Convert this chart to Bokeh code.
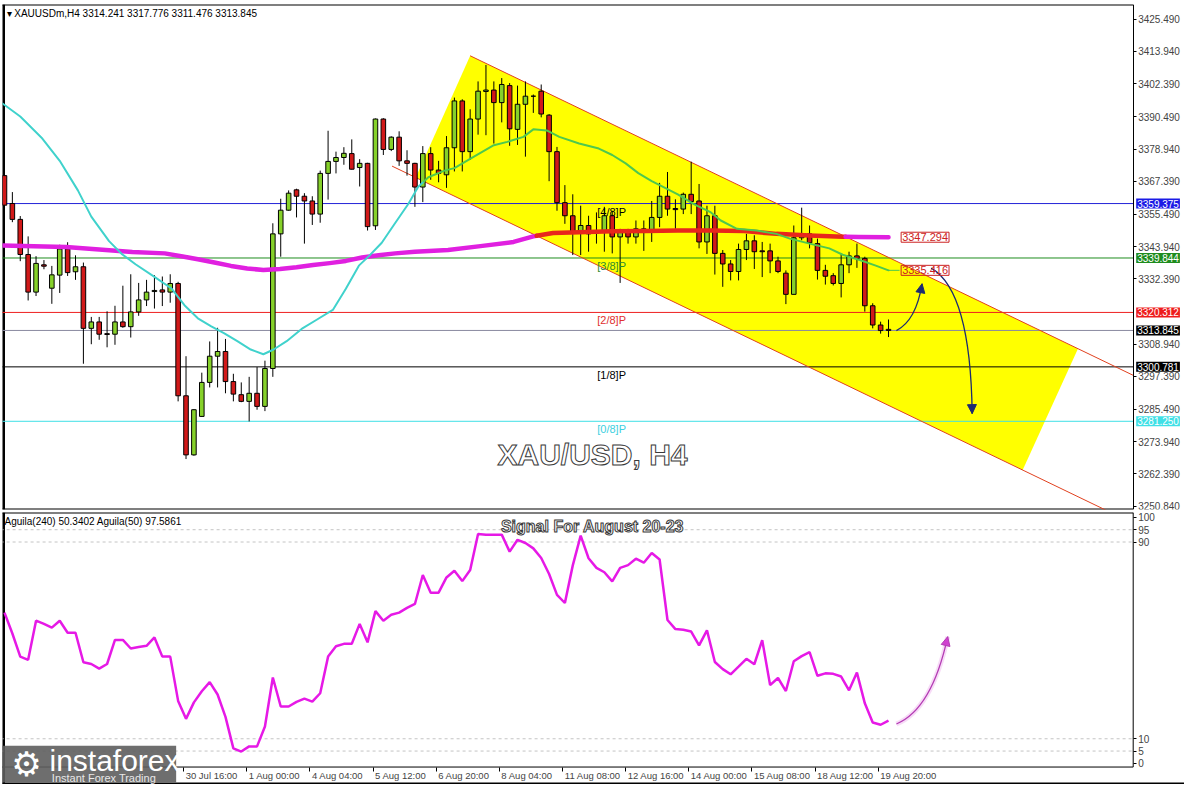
import numpy as np
from bokeh.plotting import figure
from bokeh.layouts import column
from bokeh.models import (Range1d, FixedTicker, Label, Arrow, NormalHead, ColumnDataSource,
                          NumeralTickFormatter, CustomJSTickFormatter, BoxAnnotation, LinearAxis)
from bokeh.core.properties import value
from bokeh.embed import file_html
from bokeh.resources import INLINE

# ---------------- data ----------------
opens = [3369.4, 3359.4, 3353.7, 3341.1, 3327.6, 3337.4, 3329.0, 3333.7, 3343.1, 3334.9,
         3336.7, 3314.6, 3316.9, 3312.7, 3312.5, 3316.9, 3315.2, 3320.5, 3324.8, 3327.8,
         3328.4, 3327.6, 3330.7, 3290.4, 3269.2, 3283.0, 3295.2, 3304.6, 3306.3, 3295.5,
         3290.8, 3288.4, 3291.3, 3286.6, 3300.2, 3348.5, 3357.0, 3364.3, 3362.0, 3360.3,
         3355.6, 3370.2, 3374.5, 3375.9, 3377.3, 3372.3, 3373.8, 3351.4, 3389.7, 3378.8,
         3383.2, 3374.7, 3373.8, 3365.3, 3377.3, 3371.4, 3369.7, 3379.4, 3396.2, 3378.0,
         3389.7, 3399.6, 3400.1, 3395.6, 3401.7, 3386.0, 3395.0, 3397.9, 3399.7, 3391.1,
         3378.0, 3359.7, 3355.0, 3349.1, 3351.5, 3349.1, 3349.1, 3355.0, 3347.4, 3349.5,
         3347.4, 3350.3, 3349.7, 3354.4, 3362.0, 3357.6, 3357.4, 3362.7, 3360.3, 3345.6,
         3355.0, 3341.5, 3337.7, 3335.0, 3342.9, 3346.0, 3342.4, 3342.4, 3338.8, 3334.4,
         3326.8, 3347.1, 3348.5, 3345.0, 3335.4, 3333.5, 3330.7, 3337.4, 3340.6, 3339.7,
         3322.7, 3315.8, 3314.241]
highs = [3373.5, 3363.5, 3354.9, 3347.6, 3340.5, 3339.1, 3337.0, 3344.6, 3345.5, 3340.8,
         3338.2, 3318.7, 3318.7, 3320.7, 3322.7, 3329.9, 3334.0, 3330.9, 3332.0, 3333.7,
         3333.2, 3334.0, 3331.3, 3304.6, 3285.6, 3298.7, 3309.9, 3314.8, 3310.8, 3298.3,
         3295.2, 3297.2, 3300.7, 3303.0, 3352.3, 3361.1, 3364.1, 3364.7, 3363.1, 3362.0,
         3371.2, 3385.5, 3378.0, 3379.6, 3382.4, 3375.3, 3374.0, 3389.9, 3390.0, 3383.5,
         3385.3, 3378.5, 3374.0, 3380.0, 3379.6, 3374.7, 3383.6, 3397.4, 3396.8, 3393.2,
         3403.2, 3409.1, 3403.2, 3404.4, 3402.6, 3401.7, 3403.2, 3398.5, 3402.1, 3391.5,
         3379.7, 3366.0, 3362.7, 3358.6, 3355.0, 3356.2, 3358.2, 3356.8, 3350.3, 3350.3,
         3353.3, 3353.3, 3360.3, 3366.8, 3370.7, 3360.9, 3363.3, 3374.4, 3366.4, 3358.6,
         3358.6, 3342.7, 3339.1, 3345.0, 3348.5, 3348.0, 3345.6, 3345.0, 3340.3, 3335.4,
         3351.5, 3357.9, 3351.5, 3346.8, 3337.4, 3334.4, 3341.5, 3342.1, 3345.0, 3340.3,
         3323.6, 3317.0, 3317.776]
lows = [3358.2, 3352.7, 3338.7, 3324.6, 3326.2, 3335.8, 3323.4, 3327.3, 3333.4, 3332.0,
        3301.9, 3308.9, 3310.5, 3307.8, 3308.7, 3314.8, 3311.3, 3319.1, 3322.6, 3321.7,
        3322.6, 3323.8, 3288.4, 3267.7, 3268.9, 3282.8, 3293.4, 3293.4, 3291.3, 3288.4,
        3288.1, 3281.2, 3285.4, 3284.9, 3297.2, 3340.3, 3356.8, 3354.4, 3345.0, 3351.7,
        3352.5, 3360.8, 3370.2, 3373.3, 3371.6, 3365.5, 3349.7, 3349.9, 3376.8, 3378.2,
        3372.9, 3369.4, 3358.2, 3359.9, 3367.9, 3367.0, 3365.0, 3370.9, 3370.9, 3375.0,
        3384.1, 3383.9, 3380.9, 3388.5, 3380.1, 3380.4, 3376.2, 3391.9, 3390.3, 3367.4,
        3356.8, 3352.1, 3340.9, 3340.9, 3342.1, 3345.0, 3342.1, 3341.5, 3330.9, 3345.0,
        3345.0, 3342.4, 3345.6, 3350.9, 3355.0, 3350.3, 3355.6, 3355.6, 3343.3, 3341.3,
        3333.9, 3329.5, 3331.8, 3331.8, 3339.1, 3335.9, 3333.0, 3334.4, 3334.4, 3323.3,
        3326.8, 3346.2, 3343.3, 3332.1, 3330.3, 3330.0, 3325.7, 3334.4, 3336.3, 3320.6,
        3314.6, 3312.7, 3311.476]
closes = [3358.8, 3353.7, 3341.1, 3327.6, 3337.9, 3336.9, 3333.8, 3343.1, 3334.6, 3336.7,
          3314.6, 3316.9, 3312.5, 3312.4, 3316.9, 3315.2, 3320.5, 3324.8, 3327.6, 3328.2,
          3327.6, 3330.7, 3290.4, 3269.2, 3285.4, 3295.2, 3304.6, 3306.3, 3295.5, 3291.0,
          3288.4, 3291.3, 3286.6, 3300.2, 3348.5, 3357.0, 3363.1, 3362.0, 3360.3, 3355.6,
          3370.2, 3374.5, 3375.9, 3377.4, 3371.7, 3373.8, 3351.1, 3389.7, 3378.8, 3383.2,
          3374.7, 3373.8, 3365.3, 3377.3, 3371.4, 3370.2, 3379.4, 3396.2, 3378.0, 3389.7,
          3399.7, 3400.1, 3395.6, 3402.1, 3386.2, 3395.0, 3397.9, 3397.9, 3391.5, 3378.0,
          3359.7, 3355.0, 3349.1, 3351.5, 3348.5, 3348.8, 3355.0, 3347.4, 3349.1, 3347.4,
          3350.3, 3349.7, 3354.4, 3362.0, 3357.4, 3357.2, 3362.7, 3360.1, 3345.6, 3355.0,
          3341.5, 3337.7, 3335.0, 3342.9, 3346.0, 3342.1, 3342.1, 3338.8, 3335.0, 3326.8,
          3347.1, 3348.3, 3345.3, 3335.4, 3333.3, 3330.7, 3337.4, 3340.6, 3339.7, 3322.7,
          3315.8, 3313.8, 3313.845]
bars = list(range(len(opens)))

ma_fast_bar = [-0.25, 2.0, 4.7, 7.0, 9.3, 11.0, 13.25, 14.9, 16.6, 19.1, 21.2, 22.8, 24.5,
               26.2, 27.8, 29.5, 31.2, 32.8, 34.1, 35.75, 37.8, 39.5, 41.6, 43.25, 44.9,
               46.2, 47.8, 49.5, 51.2, 52.4, 53.7, 55.75, 57.0, 59.1, 62.0, 63.7, 65.75,
               67.0, 68.7, 70.3, 72.8, 75.3, 77.0, 78.7, 80.3, 82.0, 83.25, 85.3, 87.4,
               89.5, 90.75, 92.8, 95.3, 97.8, 99.5, 102.0, 104.5, 106.2, 108.25, 110.3, 112.0]
ma_fast = [3395.3, 3390.6, 3383.0, 3374.7, 3364.1, 3354.7, 3345.9, 3341.2, 3337.6, 3332.9,
           3328.8, 3322.9, 3318.2, 3315.3, 3312.9, 3310.0, 3307.0, 3305.3, 3307.0, 3310.0,
           3314.7, 3317.6, 3321.2, 3328.8, 3337.1, 3340.6, 3345.3, 3352.4, 3359.4, 3365.3,
           3368.8, 3371.2, 3372.1, 3375.6, 3380.3, 3381.5, 3383.3, 3386.0, 3385.6, 3383.3,
           3380.9, 3379.1, 3376.8, 3373.8, 3370.3, 3367.4, 3365.6, 3362.7, 3359.1, 3356.2,
           3353.3, 3350.3, 3349.7, 3348.5, 3346.8, 3345.0, 3343.3, 3341.0, 3339.2, 3337.2,
           3335.416]
ma_slow_bar = [-0.25, 3.7, 7.8, 12.0, 16.2, 20.3, 22.4, 24.5, 26.6, 28.7, 30.75, 32.8, 34.9,
               37.0, 39.1, 41.2, 43.25, 45.3, 47.4, 49.5, 52.0, 56.2, 60.3, 64.5, 67.0, 69.5,
               72.8, 77.0, 81.2, 85.3, 89.5, 93.7, 97.8, 102.0, 106.2, 108.25, 112.0]
ma_slow = [3344.3, 3344.1, 3343.8, 3342.9, 3342.0, 3341.5, 3340.5, 3339.4, 3338.2, 3337.0,
           3336.1, 3335.5, 3335.9, 3336.5, 3337.3, 3338.0, 3338.8, 3340.0, 3340.8, 3341.5,
           3342.1, 3342.7, 3344.1, 3345.6, 3347.6, 3348.8, 3349.1, 3349.4, 3349.5, 3349.7,
           3349.7, 3349.5, 3348.5, 3347.9, 3347.5, 3347.4, 3347.294]

aguila = [61.3, 52.8, 43.4, 42.1, 58.0, 56.7, 55.2, 58.0, 53.1, 53.1, 41.1, 40.4, 38.5, 40.4,
          50.2, 50.2, 46.7, 47.3, 47.8, 51.2, 43.4, 43.4, 25.4, 18.1, 24.8, 29.3, 33.0, 28.0,
          18.9, 6.1, 4.8, 6.9, 6.9, 15.0, 34.9, 23.1, 23.1, 25.0, 26.3, 25.1, 28.5, 43.4,
          47.6, 48.6, 48.6, 56.7, 49.2, 61.9, 58.0, 60.4, 61.3, 63.2, 64.8, 76.6, 69.4, 69.4,
          75.6, 78.3, 74.1, 78.6, 93.3, 93.0, 93.0, 93.0, 86.1, 90.9, 89.6, 87.4, 83.5, 77.0,
          68.5, 65.2, 80.5, 92.6, 83.4, 79.5, 77.7, 74.0, 79.5, 80.6, 83.2, 81.6, 85.5, 82.9,
          58.3, 54.6, 54.3, 53.6, 48.0, 54.1, 41.2, 38.3, 36.2, 39.3, 42.5, 40.3, 50.1, 31.8,
          34.7, 29.4, 41.5, 43.6, 45.2, 35.6, 36.6, 36.4, 35.3, 29.7, 36.9, 24.4, 16.6, 15.7,
          17.4]

price_ticks = [3250.840, 3262.390, 3273.940, 3285.490, 3297.390, 3308.940, 3332.390,
               3343.940, 3355.490, 3367.390, 3378.940, 3390.490, 3402.390, 3413.940, 3425.490]
time_ticks = [22.7, 30.7, 38.7, 46.7, 54.7, 62.7, 70.7, 78.7, 86.7, 94.7, 102.7, 110.7]
time_labels = ["30 Jul 16:00", "1 Aug 00:00", "4 Aug 04:00", "5 Aug 12:00", "6 Aug 20:00",
               "8 Aug 04:00", "11 Aug 08:00", "12 Aug 16:00", "14 Aug 00:00", "15 Aug 08:00",
               "18 Aug 12:00", "19 Aug 20:00"]
aguila_ticks = [0, 5, 10, 90, 95, 100]
aguila_levels = [95, 90, 10, 5]

murrey_levels = [3359.375, 3339.844, 3320.312, 3300.781, 3281.250]
murrey_names = ["[4/8]P", "[3/8]P", "[2/8]P", "[1/8]P", "[0/8]P"]
murrey_tags = ["3359.375", "3339.844", "3320.312", "3300.781", "3281.250"]
last_price = 3313.845
last_tag = "3313.845"
ma_slow_tag = "3347.294"
ma_fast_tag = "3335.416"

# regression channel: (bar, price) anchors of the upper line, and the width in price
channel_upper = [(59.0, 3412.4), (136.0, 3307.3)]
channel_width = 53.1
channel_left_bottom = 52.1
channel_right_bottom = 129.0
channel_line_start = 49.1

header = "\u25be XAUUSDm,H4  3314.241 3317.776 3311.476 3313.845"
sub_header = "Aguila(240) 50.3402   Aguila(50) 97.5861"

# ---------------- styles ----------------
FONT = "Liberation Sans"
GREEN_C = "#86d12a"
RED_C = "#d11919"
level_colors = ["#2323d8", "#1e8c1e", "#ee2020", "#000000", "#3fe0e6"]
tag_bg = ["#1b1be6", "#1e8c1e", "#ee1c1c", "#000000", "#3fe0e6"]
text_colors = ["#000000", "#2e8b2e", "#e03030", "#000000", "#40d0e0"]

X0, XA, X1 = -0.25, 143.0, 149.5      # left edge, price-axis position, right edge
PX_PER_BAR = 1182.0 / (X1 - X0)
x_range = Range1d(X0, X1)
P_LO, P_HI = 3249.6, 3430.8
A_LO, A_HI = -8.6, 102.0
AG_BOTTOM = -1.5
slope = (channel_upper[1][1] - channel_upper[0][1]) / (channel_upper[1][0] - channel_upper[0][0])


def upper(x):
    return channel_upper[0][1] + slope * (x - channel_upper[0][0])


def lower(x):
    return upper(x) - channel_width


def inside(x, y):
    lo, hi = lower(x), upper(x)
    if y < lo or y > hi:
        return False
    f = (y - lo) / channel_width
    xl = channel_left_bottom + f * (channel_upper[0][0] - channel_left_bottom)
    xr = channel_right_bottom + f * (channel_upper[1][0] - channel_right_bottom)
    return xl <= x <= xr


def split_colored(xs, ys, c_in, c_out):
    out_x, out_y, out_c = [], [], []
    cx, cy = [xs[0]], [ys[0]]
    cin = inside(xs[0], ys[0])
    for k in range(1, len(xs)):
        x1, y1 = xs[k], ys[k]
        s = inside(x1, y1)
        if s == cin:
            cx.append(x1); cy.append(y1)
            continue
        x0, y0 = cx[-1], cy[-1]
        a, b = 0.0, 1.0
        for _ in range(30):
            m = (a + b) / 2
            if inside(x0 + (x1 - x0) * m, y0 + (y1 - y0) * m) == cin:
                a = m
            else:
                b = m
        xm, ym = x0 + (x1 - x0) * a, y0 + (y1 - y0) * a
        cx.append(xm); cy.append(ym)
        out_x.append(cx); out_y.append(cy); out_c.append(c_in if cin else c_out)
        cx, cy = [xm, x1], [ym, y1]
        cin = s
    out_x.append(cx); out_y.append(cy); out_c.append(c_in if cin else c_out)
    return out_x, out_y, out_c


def qpt(p0, c, p1, t):
    return ((1 - t) ** 2 * p0[0] + 2 * (1 - t) * t * c[0] + t ** 2 * p1[0],
            (1 - t) ** 2 * p0[1] + 2 * (1 - t) * t * c[1] + t ** 2 * p1[1])


CW = {d: 5.56 for d in "0123456789"}
CW.update({" ": 2.78, ":": 2.78, "J": 5.0, "u": 5.56, "l": 2.22, "A": 6.67, "g": 5.56})


def text_w(s, size):
    return sum(CW.get(ch, 5.5) for ch in s) * size / 10.0


# ---------------- main price panel ----------------
p = figure(width=1184, height=512, x_range=x_range, y_range=Range1d(P_LO, P_HI),
           toolbar_location=None, output_backend="svg", x_axis_location=None,
           y_axis_location="right", min_border_left=2, min_border_right=0,
           min_border_top=4, min_border_bottom=3)
p.grid.visible = False
p.outline_line_color = None
p.background_fill_color = "white"
p.border_fill_color = "white"
ya = p.yaxis[0]
ya.fixed_location = XA
ya.ticker = FixedTicker(ticks=price_ticks, minor_ticks=[])
ya.formatter = NumeralTickFormatter(format="0.000")
ya.major_label_text_font = FONT
ya.major_label_text_font_size = "10px"
ya.major_tick_out = 3
ya.major_tick_in = 0
ya.minor_tick_out = 0
ya.minor_tick_in = 0
ya.major_label_standoff = 2
ya.axis_line_color = "black"

# panel frame (top / bottom / left window border)
p.segment(x0=[X0 - 1, X0 - 1, X0], y0=[P_HI, P_LO, P_LO], x1=[XA, XA, X0], y1=[P_HI, P_LO, P_HI],
          line_color="black", line_width=[2, 2, 5])

# channel fill
cx0, cx1 = channel_upper[0][0], channel_upper[1][0]
p.patch([cx0, cx1, channel_right_bottom, channel_left_bottom],
        [upper(cx0), upper(cx1), lower(channel_right_bottom), lower(channel_left_bottom)],
        fill_color="#ffff00", line_color=None)

# horizontal levels
for lvl, col in zip(murrey_levels, level_colors):
    p.segment(x0=X0 - 1, x1=XA, y0=lvl, y1=lvl, line_color=col, line_width=1)
p.segment(x0=X0 - 1, x1=XA, y0=last_price, y1=last_price, line_color="#8a8aa0", line_width=1)

# channel lines
p.segment(x0=cx0, y0=upper(cx0), x1=XA, y1=upper(XA), line_color="#e0401e", line_width=1)
p.segment(x0=channel_line_start, y0=lower(channel_line_start), x1=XA, y1=lower(XA),
          line_color="#e0401e", line_width=1)

# candles
tops = [max(o, c) for o, c in zip(opens, closes)]
bots = [min(o, c) for o, c in zip(opens, closes)]
cols = [GREEN_C if c > o else RED_C for o, c in zip(opens, closes)]
src = ColumnDataSource(dict(x=bars, h=highs, l=lows, top=tops, bottom=bots, color=cols))
p.segment(x0="x", y0="l", x1="x", y1="h", source=src, line_color="black", line_width=1)
p.vbar(x="x", top="top", bottom="bottom", width=0.58, fill_color="color",
       line_color="black", line_width=1, source=src)

# moving averages
sx, sy, sc = split_colored(ma_slow_bar, ma_slow, "#e8261c", "#e020e0")
p.multi_line(xs="xs", ys="ys", line_color="c", line_width=4.5, line_cap="round", line_join="round",
             source=ColumnDataSource(dict(xs=sx, ys=sy, c=sc)))
fx, fy, fc = split_colored(ma_fast_bar, ma_fast, "#4ec84e", "#40d2cc")
p.multi_line(xs="xs", ys="ys", line_color="c", line_width=2, line_cap="round", line_join="round",
             source=ColumnDataSource(dict(xs=fx, ys=fy, c=fc)))
p.segment(x0=ma_fast_bar[-1], x1=113.4, y0=ma_fast[-1], y1=ma_fast[-1], line_color="#4ec84e",
          line_width=1)

# Murrey labels
p.text(x=[75.1] * 5, y=murrey_levels, text=murrey_names, text_color=text_colors,
       text_font=value(FONT), text_font_size="11px", text_baseline="top", text_align="left",
       y_offset=2)

# MA value tags
for t, yv in ((ma_slow_tag, ma_slow[-1]), (ma_fast_tag, ma_fast[-1])):
    p.add_layout(Label(x=113.6, y=yv, text=t, text_font=FONT, text_font_size="11px",
                       text_color="#cc2222", text_baseline="middle", text_align="left",
                       border_line_color="#cc2222", border_line_width=1, padding=1))

# price-axis tags
for t, lvl, bg in list(zip(murrey_tags, murrey_levels, tag_bg)) + [(last_tag, last_price, "#000000")]:
    p.add_layout(Label(x=XA, y=lvl, x_offset=3, text=t, text_font=FONT, text_font_size="10px",
                       text_color="white", text_baseline="middle", text_align="left",
                       background_fill_color=bg, background_fill_alpha=1.0, padding=1))

# forecast arrows
navy = "#1c2b70"
a1 = ((113.0, 3313.8), (115.5, 3317.4), (116.25, 3330.6))
a2 = ((117.4, 3336.2), (122.4, 3328.1), (122.6, 3284.0))
for s0, c0, e0 in (a1, a2):
    p.quadratic(x0=s0[0], y0=s0[1], cx=c0[0], cy=c0[1], x1=e0[0], y1=e0[1],
                line_color=navy, line_width=1.3)
    st = qpt(s0, c0, e0, 0.9)
    p.add_layout(Arrow(end=NormalHead(size=9, fill_color=navy, line_color=navy),
                       x_start=st[0], y_start=st[1], x_end=e0[0], y_end=e0[1], line_alpha=0))

# header + watermark
p.add_layout(Label(x=X0, y=3427.6, x_offset=4, text=header, text_font=FONT,
                   text_font_size="10px", text_color="black", text_baseline="middle"))
p.add_layout(Label(x=74.5, y=3269.5, text="XAU/USD, H4", text_font=FONT, text_font_size="30px",
                   text_font_style="bold", text_color="white", text_outline_color="#3a3a3a",
                   text_align="center", text_baseline="middle"))

# ---------------- indicator panel ----------------
q = figure(width=1184, height=272, x_range=x_range, y_range=Range1d(A_LO, A_HI),
           toolbar_location=None, output_backend="svg", y_axis_location="right",
           min_border_left=2, min_border_right=0, min_border_top=0, min_border_bottom=0)
q.grid.visible = False
q.outline_line_color = None
q.background_fill_color = "white"
q.border_fill_color = "white"
qa = q.yaxis[0]
qa.fixed_location = XA
qa.ticker = FixedTicker(ticks=aguila_ticks, minor_ticks=[])
qa.major_label_text_font = FONT
qa.major_label_text_font_size = "10px"
qa.major_tick_out = 3
qa.major_tick_in = 0
qa.minor_tick_out = 0
qa.minor_tick_in = 0
qa.major_label_standoff = 2
qa.axis_line_color = None

# time labels (left-aligned after their tick, as in the terminal)
label_pos = [t + (2.0 + 0.5 * text_w(s, 9.5)) / PX_PER_BAR for t, s in zip(time_ticks, time_labels)]
xa = q.xaxis[0]
xa.fixed_location = AG_BOTTOM
xa.ticker = FixedTicker(ticks=label_pos, minor_ticks=[])
xa.formatter = CustomJSTickFormatter(args=dict(tt=label_pos, ll=time_labels), code="""
for (let i = 0; i < tt.length; i++) { if (Math.abs(tt[i] - tick) < 0.001) { return ll[i]; } }
return "";
""")
xa.major_label_text_font = FONT
xa.major_label_text_font_size = "9.5px"
xa.major_tick_out = 0
xa.major_tick_in = 0
xa.minor_tick_out = 0
xa.minor_tick_in = 0
xa.major_label_standoff = 3
xa.axis_line_color = None

tick_axis = LinearAxis(fixed_location=AG_BOTTOM, ticker=FixedTicker(ticks=time_ticks, minor_ticks=[]),
                       formatter=CustomJSTickFormatter(code="return '';"),
                       major_tick_out=4, major_tick_in=0, minor_tick_out=0, minor_tick_in=0,
                       axis_line_color=None, major_label_text_font_size="1px")
q.add_layout(tick_axis, "below")

# panel frame: top line, axis lines, left and bottom window border
q.segment(x0=[X0 - 1, X0 - 1, XA, X0, X0 - 1],
          y0=[A_HI, AG_BOTTOM, AG_BOTTOM, A_LO, A_LO],
          x1=[XA, XA, XA, X0, X1 + 1],
          y1=[A_HI, AG_BOTTOM, A_HI, A_HI, A_LO],
          line_color="black", line_width=[2, 1, 1, 5, 4])

q.segment(x0=X0 - 1, x1=XA, y0=aguila_levels, y1=aguila_levels, line_color="#c4c4c4",
          line_width=1, line_dash="3 3")
q.line(bars, aguila, line_color="#e619e6", line_width=2.5)

pa = ((113.0, 16.0), (117.5, 22.0), (119.5, 51.5))
q.quadratic(x0=pa[0][0], y0=pa[0][1], cx=pa[1][0], cy=pa[1][1], x1=pa[2][0], y1=pa[2][1],
            line_color="#e070e0", line_width=5, line_alpha=0.25)
q.quadratic(x0=pa[0][0], y0=pa[0][1], cx=pa[1][0], cy=pa[1][1], x1=pa[2][0], y1=pa[2][1],
            line_color="#b43cb4", line_width=1.3)
stp = qpt(*pa, 0.9)
q.add_layout(Arrow(end=NormalHead(size=9, fill_color="#d040d0", line_color="#b43cb4"),
                   x_start=stp[0], y_start=stp[1], x_end=pa[2][0], y_end=pa[2][1], line_alpha=0))

q.add_layout(Label(x=X0, y=98.4, x_offset=2, text=sub_header, text_font=FONT, text_font_size="10px",
                   text_color="black", text_baseline="middle"))
q.add_layout(Label(x=74.5, y=96.4, text="Signal For August 20-23", text_font=FONT,
                   text_font_size="16px", text_font_style="bold", text_color="white",
                   text_outline_color="#3a3a3a", text_align="center", text_baseline="middle"))

# logo
q.add_layout(BoxAnnotation(left=X0 - 1, right=21.75, top=7.2, bottom=A_LO + 0.8,
                           fill_color="#5e5e5e", fill_alpha=0.9, line_color=None))
q.add_layout(Label(x=2.8, y=-0.4, text="\u2699", text_font="DejaVu Sans", text_font_size="34px",
                   text_color="white", text_align="center", text_baseline="middle"))
q.add_layout(Label(x=5.7, y=1.2, text="instaforex", text_font=FONT, text_font_size="30px",
                   text_color="white", text_baseline="middle"))
q.add_layout(Label(x=6.0, y=-6.0, text="Instant Forex Trading", text_font=FONT,
                   text_font_size="11px", text_color="#e8e8e8", text_baseline="middle"))

layout = column(p, q, spacing=0)
open("out.html", "w").write(file_html(layout, INLINE))
